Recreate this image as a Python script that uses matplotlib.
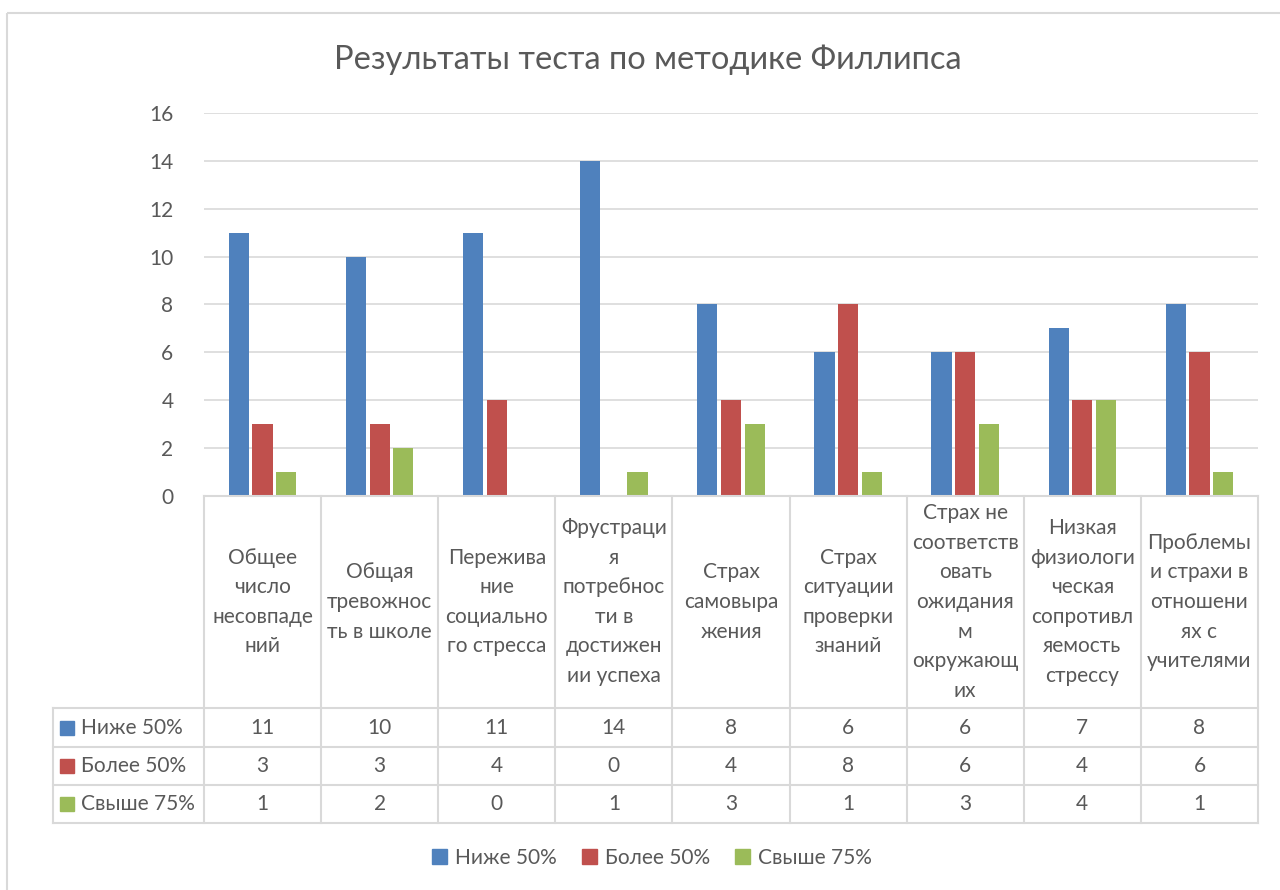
import matplotlib.pyplot as plt
from matplotlib.patches import Rectangle
import numpy as np

plt.rcParams['font.family'] = ['Lato', 'DejaVu Sans']

categories = [
    "Общее\nчисло\nнесовпаде\nний",
    "Общая\nтревожнос\nть в школе",
    "Пережива\nние\nсоциально\nго стресса",
    "Фрустраци\nя\nпотребнос\nти в\nдостижен\nии успеха",
    "Страх\nсамовыра\nжения",
    "Страх\nситуации\nпроверки\nзнаний",
    "Страх не\nсоответств\nовать\nожидания\nм\nокружающ\nих",
    "Низкая\nфизиологи\nческая\nсопротивл\nяемость\nстрессу",
    "Проблемы\nи страхи в\nотношени\nях с\nучителями",
]
series_names = ["Ниже 50%", "Более 50%", "Свыше 75%"]
below_50 = [11, 10, 11, 14, 8, 6, 6, 7, 8]
above_50 = [3, 3, 4, 0, 4, 8, 6, 4, 6]
above_75 = [1, 2, 0, 1, 3, 1, 3, 4, 1]
series = [below_50, above_50, above_75]
colors = ["#4F81BD", "#C0504D", "#9BBB59"]

W, H = 1280, 890
fig = plt.figure(figsize=(W / 100, H / 100), dpi=100)

# pixel geometry of the plot area
px_left, px_right = 204, 1258
px_top, px_bottom = 113, 496
grid_color = "#D9D9D9"
text_color = "#595959"
fs = 15

ax = fig.add_axes([px_left / W, 1 - px_bottom / H,
                   (px_right - px_left) / W, (px_bottom - px_top) / H])
n = len(categories)
x = np.arange(n) + 0.5
slot = 0.202
bw = 0.172
for i, (vals, c) in enumerate(zip(series, colors)):
    ax.bar(x + (i - 1) * slot, vals, width=bw, color=c, zorder=3)
ax.set_xlim(0, n)
ax.set_ylim(0, 16)
ax.set_yticks(range(0, 17, 2))
ax.yaxis.grid(True, color=grid_color, linewidth=1.2, zorder=0)
ax.set_xticks([])
for s in ax.spines.values():
    s.set_visible(False)
ax.tick_params(axis='y', length=0, labelsize=fs, labelcolor=text_color, pad=22)

# overlay in pixel coordinates for table, frame and labels
ov = fig.add_axes([0, 0, 1, 1], zorder=-1)
ov.set_xlim(0, W)
ov.set_ylim(H, 0)
ov.axis("off")
ov2 = fig.add_axes([0, 0, 1, 1], zorder=5)
ov2.set_xlim(0, W)
ov2.set_ylim(H, 0)
ov2.axis("off")
ov2.patch.set_alpha(0)

# chart frame
ov.add_patch(Rectangle((7, 13), W + 10, H + 10, fill=False,
                       edgecolor="#D9D9D9", linewidth=1.5))

fig.text(648 / W, 1 - 60 / H, "Результаты теста по методике Филлипса",
         ha="center", va="center", fontsize=23.5, color=text_color)

# table
col_w = (px_right - px_left) / n
row_y = [708, 747, 785, 823]
lab_left = 53
lw = 1.5
ov2.plot([px_left, px_right], [px_bottom, px_bottom], color=grid_color, lw=lw)
for k in range(n + 1):
    xx = px_left + k * col_w
    ov2.plot([xx, xx], [px_bottom, row_y[-1]], color=grid_color, lw=lw)
ov2.plot([lab_left, lab_left], [row_y[0], row_y[-1]], color=grid_color, lw=lw)
for yy in row_y:
    ov2.plot([lab_left, px_right], [yy, yy], color=grid_color, lw=lw)

for k, cat in enumerate(categories):
    ov2.text(px_left + (k + 0.5) * col_w, (px_bottom + row_y[0]) / 2, cat,
             ha="center", va="center", fontsize=fs, color=text_color,
             linespacing=1.6)

for r, (name, vals, c) in enumerate(zip(series_names, series, colors)):
    yc = (row_y[r] + row_y[r + 1]) / 2
    ov2.add_patch(Rectangle((60, yc - 7), 14, 14, color=c))
    ov2.text(81, yc, name, ha="left", va="center", fontsize=fs, color=text_color)
    for k, v in enumerate(vals):
        ov2.text(px_left + (k + 0.5) * col_w, yc, str(v), ha="center",
                 va="center", fontsize=fs, color=text_color)

# legend
handles = [Rectangle((0, 0), 1, 1, color=c) for c in colors]
fig.legend(handles, series_names, loc="center", bbox_to_anchor=(652 / W, 1 - 858 / H),
           ncol=3, frameon=False, fontsize=fs, labelcolor=text_color,
           handlelength=0.7, handleheight=0.7, handletextpad=0.4, columnspacing=1.2)

fig.savefig("out.png", dpi=100)
